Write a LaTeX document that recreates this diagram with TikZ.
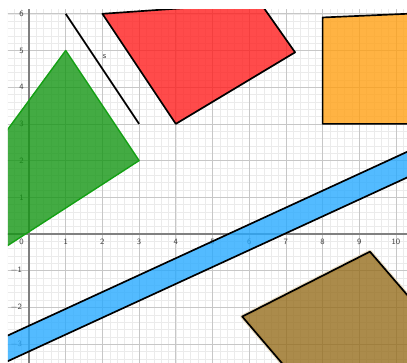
\documentclass[tikz,border=0pt]{standalone}
\definecolor{gfill}{RGB}{20,150,20}
\definecolor{gline}{RGB}{20,160,20}
\definecolor{rfill}{RGB}{255,30,30}
\definecolor{ofill}{RGB}{255,160,20}
\definecolor{bfill}{RGB}{40,170,255}
\definecolor{brfill}{RGB}{150,110,30}
\definecolor{halo}{RGB}{235,222,195}
\begin{document}
\begin{tikzpicture}[x=1cm,y=1cm,
  ticklbl/.style={font=\fontsize{6.3}{7}\selectfont\sffamily, text=black!75, inner sep=0pt},
  shapeline/.style={draw=black, line width=1.3pt, line join=round},
  areafill/.style={fill opacity=0.8},
]
\useasboundingbox (-0.790,-3.488) rectangle (10.300,6.376);
\begin{scope}
\clip (-0.572,-3.488) rectangle (10.300,6.104);
% grid
\draw[black!8, line width=0.35pt, step=0.2] (-1,-4) grid (11,7);
\draw[black!22, line width=0.5pt, step=1] (-1,-4) grid (11,7);
% axes
\coordinate (xl) at (-1,0); \coordinate (xr) at (11,0);
\coordinate (yb) at (0,-4); \coordinate (yt) at (0,7);
\draw[black!50, line width=0.8pt] (xl) -- (xr);
\draw[black!50, line width=0.8pt] (yb) -- (yt);
% tick labels
\node[ticklbl] (x0) at (-0.2,-0.21) {0};
\foreach \i in {1,...,10} { \node[ticklbl] (x\i) at (\i,-0.21) {\i}; }
\foreach \i in {1,...,6} { \node[ticklbl] (y\i) at (-0.2,\i) {\i}; }
\foreach \i in {1,2,3} { \node[ticklbl] (ym\i) at (-0.35,-\i) {$-$\i}; }
% green triangle
\coordinate (g1) at (1,5); \coordinate (g2) at (3,2); \coordinate (g3) at (-5,-3.17);
\filldraw[fill=gfill, areafill, draw=gline, line width=1.1pt, line join=round] (g1) -- (g2) -- (g3) -- cycle;
% red quadrilateral
\coordinate (r1) at (2,6); \coordinate (r2) at (6.3,6.3); \coordinate (r3) at (7.25,4.95); \coordinate (r4) at (4,3);
\filldraw[fill=rfill, areafill, shapeline] (r1) -- (r2) -- (r3) -- (r4) -- cycle;
% orange quadrilateral
\coordinate (o1) at (8,3); \coordinate (o2) at (8,5.9); \coordinate (o3) at (11,6.03); \coordinate (o4) at (11,3);
\filldraw[fill=ofill, areafill, shapeline] (o1) -- (o2) -- (o3) -- (o4) -- cycle;
% blue band
\coordinate (b1) at (-1,-2.96); \coordinate (b2) at (11,2.56); \coordinate (b3) at (11,1.86); \coordinate (b4) at (-1,-3.66);
\fill[fill=bfill, areafill] (b1) -- (b2) -- (b3) -- (b4) -- cycle;
\draw[shapeline] (b1) -- (b2);
\draw[shapeline] (b4) -- (b3);
% brown quadrilateral
\coordinate (w1) at (5.81,-2.25); \coordinate (w2) at (9.29,-0.48); \coordinate (w3) at (11.5,-3.05); \coordinate (w4) at (8.0,-4.82);
\draw[halo, line width=3pt, line join=round] (w1) -- (w2) -- (w3) -- (w4) -- cycle;
\filldraw[fill=brfill, areafill, shapeline] (w1) -- (w2) -- (w3) -- (w4) -- cycle;
% segment s
\coordinate (s1) at (1,6); \coordinate (s2) at (3,3);
\draw[black, line width=1.3pt] (s1) -- (s2);
\node[font=\fontsize{6.5}{7}\selectfont\sffamily, text=black!75, inner sep=0pt] (slbl) at (2.06,4.82) {s};
\end{scope}
\end{tikzpicture}
\end{document}
